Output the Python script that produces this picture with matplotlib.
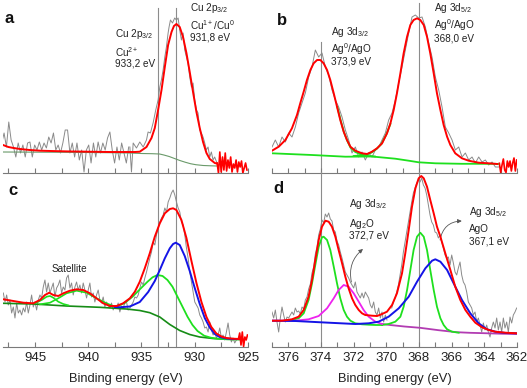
import numpy as np
import matplotlib
matplotlib.use("Agg")
import matplotlib.pyplot as plt
from matplotlib.ticker import MultipleLocator

plt.rcParams['font.family'] = ['Liberation Sans', 'DejaVu Sans']
plt.rcParams['mathtext.fontset'] = 'custom'
plt.rcParams['mathtext.rm'] = 'Liberation Sans'
plt.rcParams['mathtext.it'] = 'Liberation Sans:italic'
plt.rcParams['mathtext.bf'] = 'Liberation Sans:bold'

# ---------------- tick labels ----------------
cu_ticks = [945, 940, 935, 930, 925]
ag_ticks = [376, 374, 372, 370, 368, 366, 364, 362]
cu_lines = [933.45, 931.78]
ag_lines = [374.0, 368.0]

# ---------------- panel a : Cu 2p ----------------
a_raw1 = [30, 40, 26, 51, 33, 26, 16, 30, 20, 28, 16, 30, 31, 16, 28, 23, 31, 23, 30, 25,
          36, 30, 40, 23, 28, 20, 30, 43, 43, 20, 30, 16, 30, 13, 23, 1, 23, 28, 10, 30,
          16, 31, 20, 30, 23, 35, 41, 23, 10, 26, 13, 30, 20, 10, 26]
a_raw1_range = (948.12, 936.2)
a_raw2_E = [936.09, 935.94, 935.78, 935.47, 935.16, 934.84, 934.53, 934.38, 934.16, 933.91,
            933.66, 933.44, 933.28, 933.13, 932.97, 932.81, 932.66, 932.5, 932.41, 932.28,
            932.09, 931.88, 931.72, 931.56, 931.41, 931.25, 931.09, 930.94, 930.78, 930.63,
            930.47, 930.31, 930.16, 930.0, 929.84, 929.69, 929.53, 929.38, 929.22, 929.06,
            928.91, 928.75, 928.59, 928.44, 928.28, 928.13, 927.91]
a_raw2 = [26, 1, 30, 25, 31, 26, 33, 41, 40, 50, 63, 73, 86, 93, 103, 116, 126, 140, 146, 153,
          150, 155, 153, 155, 143, 133, 140, 123, 116, 110, 96, 86, 90, 73, 63, 60, 43, 40, 36, 30,
          23, 26, 16, 21, 13, 16, 10]
a_fit_E = [948.0, 947.5, 947.0, 946.4, 945.5, 944.5, 943.5, 942.0, 940.0, 938.0,
           936.5, 936.09, 935.6, 935.16, 934.53, 934.06, 933.75, 933.44, 933.12, 932.81,
           932.5, 932.18, 931.95, 931.72, 931.41, 931.1, 930.78, 930.47, 930.16, 929.84,
           929.53, 929.22, 928.9, 928.59, 928.12, 927.94]
a_fit = [28, 26, 25, 24, 23, 22.3, 22, 21.6, 21.3, 21,
         21, 21, 21, 21.3, 26, 35, 45, 63, 83, 106,
         128, 141, 147, 149, 146, 136, 120, 101, 81, 61,
         45, 31, 20, 14, 10, 9.5]
a_tail = [10, 0, 21, 1, 16, 3, 20, 2, 13, 5, 16, 1, 9, 5, 13, 1, 11, 6, 12, 0, 5, 10, 3]
a_tail_range = (927.9, 925.1)
a_bg_E = [948.0, 942.0, 938.0, 936.1, 935.0, 934.0, 933.3, 932.9, 932.4, 931.9, 931.4,
          930.9, 930.4, 929.9, 929.2, 928.5, 927.9]
a_bg = [21, 20.7, 20.3, 20, 19.5, 19.3, 19, 18, 16.5, 14.5, 12.5, 10.8, 9.3, 8.3, 7.5, 7.2, 7]

# ---------------- panel b : Ag 3d ----------------
b_raw = [26, 33, 26, 36, 31, 40, 36, 46, 60, 70, 80, 96, 106, 123, 116, 120, 106, 98, 83, 73,
         66, 56, 43, 33, 20, 26, 16, 21, 13, 20, 16, 23, 26, 33, 40, 53, 60, 73, 90, 106,
         123, 140, 156, 158, 155, 156, 146, 130, 116, 96, 83, 66, 46, 40, 33, 23, 26, 16, 20, 13,
         16, 10, 16, 11, 13, 8, 11, 6, 6]
b_raw_range = (377.0, 363.12)
b_fit_E = [377.0, 376.59, 376.18, 375.78, 375.47, 375.27, 375.06, 374.86, 374.65, 374.45,
           374.24, 374.04, 373.84, 373.63, 373.43, 373.22, 373.02, 372.82, 372.61, 372.41,
           372.2, 371.9, 371.49, 371.18, 370.88, 370.57, 370.26, 369.96, 369.75, 369.55,
           369.35, 369.14, 368.94, 368.73, 368.53, 368.33, 368.12, 367.92, 367.71, 367.51,
           367.31, 367.1, 366.9, 366.69, 366.49, 366.28, 366.08, 365.78, 365.37, 364.96,
           364.35, 363.74, 363.22]
b_fit = [22.3, 26.3, 33, 44.7, 58, 69.7, 81.3, 93, 103, 109.7,
         113, 113, 109.7, 103, 93, 79.7, 66.3, 53, 41.3, 33,
         26.3, 22.3, 19.7, 19, 21.3, 24.7, 29.7, 39.7, 49.7, 63,
         79.7, 99.7, 119.7, 136.3, 148, 153, 154.7, 153, 148, 136.3,
         119.7, 99.7, 79.7, 63, 48, 36.3, 28, 19.7, 14.7, 12.3,
         10.3, 9.7, 9]
b_tail = [9.7, 0.5, 8, 14, 3, 0.5, 12, 6, 12, 2, 10, 15, 2, 13]
b_tail_range = (363.08, 362.02)
b_c1_E = [373.0, 372.8, 372.6, 372.4, 372.2, 371.9, 371.5, 371.1, 370.7]
b_c1 = [66, 53, 41, 32.5, 25.5, 21, 18.3, 17, 16.5]
b_c2_E = [372.0, 371.6, 371.2, 370.9, 370.6, 370.3, 370.0, 369.75]
b_c2 = [17, 17.5, 18.5, 20.5, 24, 29, 38.5, 49]
b_bg_E = [377.0, 374.55, 372.51, 370.88, 369.45, 368.63, 368.02, 367.0, 365.37, 363.33, 363.1]
b_bg = [19.7, 18, 16.3, 16.5, 14.3, 12.3, 10.7, 9.7, 9.2, 9.2, 9]

# ---------------- panel c : Cu 2p ----------------
c_raw1 = [54, 45, 52, 42, 47, 34, 40, 29, 44, 34, 37, 32, 39, 35, 45, 34, 42, 52, 40, 45,
          37, 47, 52, 49, 60, 67, 55, 64, 54, 59, 64, 50, 59, 62, 67, 54, 60, 57, 69, 72,
          59, 64, 52, 60, 65, 57, 62, 54, 64, 57, 49, 57, 64, 50, 54, 45, 52, 57, 47, 44,
          50, 40, 45, 42, 39, 44, 37, 41, 39, 44, 35, 41, 39, 44, 45, 37]
c_raw1_range = (947.97, 936.25)
c_raw2 = [39, 42, 45, 50, 49, 52, 59, 65, 62, 69, 75, 82, 89, 95, 105, 102, 112, 119, 125, 129,
          132, 139, 135, 145, 149, 154, 157, 152, 145, 139, 135, 125, 122, 112, 99, 89, 75, 65, 55, 45,
          42, 39, 32, 29, 25, 19, 20, 15, 25, 17, 12, 15, 9, 12, 19, 9, 12, 7, 15, 24,
          12, 5, 9, 4, 7]
c_raw2_range = (936.09, 926.09)
c_fit_E = [947.97, 947.03, 946.09, 945.16, 944.53, 944.06, 943.66, 943.28, 942.81, 942.34,
           941.72, 941.09, 940.47, 939.84, 939.22, 938.59, 937.97, 937.34, 936.72, 936.09,
           935.62, 935.16, 934.69, 934.22, 933.75, 933.28, 932.81, 932.34, 932.03, 931.72,
           931.25, 930.78, 930.31, 929.84, 929.37, 928.9, 928.44, 927.97, 927.5, 927.03,
           926.41, 925.78]
c_fit = [47.7, 46, 44.3, 43.7, 47, 52, 54.3, 52, 51, 53.7,
         56.3, 57.7, 57, 53.7, 48.7, 43.7, 41, 41, 43.7, 48.7,
         55.3, 65.3, 78.7, 93.7, 110.3, 123.7, 133.7, 138, 138.7, 137,
         127, 109, 86, 64, 45, 30, 20, 13.5, 10.5, 9,
         8.3, 8]
c_tail = [8, 14, 2, 15, 0.5, 10, 7, 12]
c_tail_range = (925.9, 925.05)
c_blue_E = [937.5, 937.03, 936.09, 935.16, 934.37, 933.75, 933.28, 932.81, 932.34, 932.03,
            931.78, 931.41, 930.94, 930.47, 930.0, 929.53, 929.06, 928.59, 928.12, 927.66,
            927.03, 926.41, 925.78]
c_blue = [40, 39.7, 40.5, 45, 55, 66, 77, 88.7, 98.7, 103,
          104.3, 102, 91, 76, 59, 43, 29, 19.5, 13, 10,
          8.5, 8, 8]
c_green_E = [937.4, 936.62, 935.84, 935.06, 934.43, 933.96, 933.49, 933.02, 932.56, 932.09,
             931.62, 931.15, 930.68, 930.21, 929.74, 929.12, 928.49, 927.87, 926.93, 925.78]
c_green = [40.3, 43.7, 50.3, 58.7, 65.3, 69.7, 72, 71, 67, 60.3,
           50.3, 40.3, 30.3, 22, 16, 11.3, 9.3, 8.3, 7.7, 7.7]
c_sat1_E = [945.0, 944.37, 943.9, 943.59, 943.28, 942.81, 942.34, 941.87]
c_sat1 = [43.7, 47, 50.3, 51, 49.3, 45.3, 43, 41.7]
c_sat2_E = [944.53, 943.59, 942.81, 942.03, 941.09, 940.16, 939.22, 938.28, 937.5]
c_sat2 = [42.7, 44.3, 48.7, 53.7, 56.3, 54.3, 48.7, 43.7, 40.3]
c_bg_E = [947.97, 945.16, 942.03, 938.91, 936.41, 935.16, 934.22, 933.28, 932.34, 931.41,
          930.47, 929.53, 928.28, 927.03, 925.78]
c_bg = [43.7, 43, 41, 39.7, 38, 36.5, 34.3, 30, 22.5, 16.5, 12.5, 10, 8.5, 7.8, 7.5]

# ---------------- panel d : Ag 3d ----------------
d_raw1 = [35, 29, 37, 25, 15, 29, 40, 32, 25, 30, 29, 32, 35, 32, 39, 35, 36, 33, 40, 38,
          47, 50, 58, 63, 74, 80, 93, 100, 112, 118, 127, 124, 133, 130, 134, 128, 126, 117, 115, 106,
          102, 95, 89, 82, 75, 72, 69, 65, 62, 59, 65, 55, 52, 49, 54, 49, 55, 52, 49, 42,
          39, 45, 35, 32, 39, 29, 35, 25, 32, 27]
d_raw1_range = (377.0, 369.96)
d_raw2 = [39, 45, 49, 55, 62, 72, 82, 95, 105, 115, 125, 135, 145, 154, 159, 164, 167, 165, 169, 162,
          159, 152, 142, 132, 125, 122, 115, 114, 109, 112, 105, 99, 92, 89, 90, 82, 92, 84, 75, 72,
          79, 85, 72, 65, 62, 55, 45, 42, 39, 32, 35, 25, 29, 22, 15, 24, 17, 22, 15, 10,
          19, 25, 19, 29, 17, 25, 15, 29, 19, 25, 15, 30, 24, 32, 35, 39]
d_raw2_range = (369.67, 362.02)
d_fit_E = [377.0, 376.39, 375.78, 375.37, 375.06, 374.76, 374.55, 374.35, 374.14, 373.94,
           373.73, 373.53, 373.33, 373.12, 372.92, 372.71, 372.51, 372.31, 372.1, 371.9,
           371.69, 371.49, 371.29, 370.88, 370.57, 370.26, 369.96, 369.65, 369.35, 369.04,
           368.84, 368.63, 368.43, 368.22, 368.02, 367.86, 367.71, 367.51, 367.31, 367.1,
           366.9, 366.69, 366.39, 366.08, 365.78, 365.47, 365.16, 364.86, 364.55, 364.14,
           363.73, 363.33, 362.71, 362.0]
d_fit = [26.3, 26.3, 27.7, 30.3, 37, 50.3, 67, 87, 107, 120.3,
         126.3, 125.3, 120.3, 110.3, 97, 83.7, 70.3, 58.7, 48.7, 42,
         37, 33.7, 32, 31.3, 31, 33, 35.3, 42, 53.7, 73.7,
         93.7, 117, 140.3, 158.7, 168.7, 171, 168.7, 160.3, 147, 133.7,
         120.3, 110.3, 93.7, 77, 60.3, 47, 37, 30.3, 24.3, 19.7,
         17, 15.3, 14.3, 13.7]
d_g1_E = [375.78, 375.37, 375.06, 374.76, 374.55, 374.35, 374.14, 373.94, 373.84, 373.63,
          373.43, 373.22, 373.02, 372.82, 372.61, 372.41, 372.2, 371.9, 371.49, 371.08,
          370.67, 370.26]
d_g1 = [27, 28.7, 33.7, 47, 63.7, 82, 100.3, 109.7, 110.3, 107,
        97, 80.3, 63.7, 48.7, 37, 30.3, 26.3, 23.7, 22.7, 22.3,
        22, 22]
d_g2_E = [370.26, 369.86, 369.45, 369.14, 368.94, 368.73, 368.53, 368.33, 368.12, 367.92,
          367.71, 367.51, 367.31, 367.1, 366.9, 366.69, 366.49, 366.28, 365.98, 365.57]
d_g2 = [22, 23, 25.3, 30.3, 40.3, 57, 77, 97, 110.3, 114.3,
        110.3, 97, 77, 57, 40.3, 28.7, 22, 17.7, 15.3, 14.3]
d_mag_E = [377.0, 375.57, 374.76, 374.14, 373.63, 373.22, 372.92, 372.61, 372.31, 372.0,
           371.69, 371.39, 371.08, 370.67, 370.26]
d_mag = [26.3, 26.3, 27.7, 31, 38.7, 48.7, 57, 62, 60.3, 53.7,
         45.3, 37, 30.3, 25.3, 23]
d_bg_E = [370.26, 369.77, 368.9, 367.94, 366.8, 365.69, 364.88, 364.0, 363.0, 362.0]
d_bg = [23, 22, 20.5, 19.2, 16.8, 14.8, 14.2, 13.8, 13.3, 13]
d_blue_E = [377.0, 375.57, 373.53, 371.9, 371.08, 370.47, 369.86, 369.24, 368.63, 368.12,
            367.61, 367.2, 367.0, 366.69, 366.28, 365.88, 365.37, 364.86, 364.35, 363.84,
            363.33, 362.71, 362.0]
d_blue = [26.3, 26, 24.3, 23, 23.7, 25.3, 30.3, 38.7, 50.3, 65.3,
          78.7, 86.3, 87.7, 85.3, 77, 63.7, 47, 33.7, 23.7, 17.7,
          15.3, 14, 13.7]

# ---------------- styles ----------------
GRAY = '#8a8a8a'
RED = '#ff0000'
GREEN = '#1ee01e'
DKGREEN = '#168c16'
OLIVE = '#6a9a6a'
BLUE = '#1414e6'
MAG = '#ee22ee'
PURP = '#b23cb2'
LINEC = '#8c8c8c'
TXT = '#222222'

fig = plt.figure(figsize=(5.27, 3.88), dpi=100)
W, H = 527.0, 388.0
axa = fig.add_axes([3 / W, (H - 173) / H, 245 / W, 171 / H])
axb = fig.add_axes([272 / W, (H - 173) / H, 245 / W, 171 / H])
axc = fig.add_axes([3 / W, (H - 347) / H, 245 / W, 172 / H])
axd = fig.add_axes([272 / W, (H - 347) / H, 245 / W, 172 / H])


def style(ax, xlim, ylim, ticks, minor, labels):
    ax.set_xlim(*xlim)
    ax.set_ylim(*ylim)
    ax.patch.set_visible(False)
    for s in ['top', 'left', 'right']:
        ax.spines[s].set_visible(False)
    ax.spines['bottom'].set_color('#7a7a7a')
    ax.spines['bottom'].set_linewidth(0.8)
    ax.set_yticks([])
    ax.set_xticks(ticks)
    ax.set_xticklabels([str(t) for t in ticks])
    ax.xaxis.set_minor_locator(MultipleLocator(minor))
    ax.tick_params(axis='x', which='both', direction='in', length=3.5, width=0.8,
                   color='#7a7a7a', labelsize=9.5, pad=3.5, labelbottom=labels,
                   labelcolor=TXT)
    if labels:
        ax.set_xlabel('Binding energy (eV)', fontsize=9.3, color=TXT)
        ax.xaxis.label.set_va('baseline')
        ax.xaxis.set_label_coords(0.5, -0.202)


style(axa, (948, 925), (0, 171), cu_ticks, 2.5, False)
style(axb, (377, 362), (0, 171), ag_ticks, 1, False)
style(axc, (948, 925), (0, 172), cu_ticks, 2.5, True)
style(axd, (377, 362), (0, 172), ag_ticks, 1, True)

# vertical guide lines (continuous across top and bottom panels)
for e, top in zip(cu_lines, [0.965, 0.965]):
    axa.axvline(e, 0, top, color=LINEC, lw=0.8, zorder=1)
    axc.axvline(e, 0, 1.02, color=LINEC, lw=0.8, zorder=1, clip_on=False)
for e, top in zip(ag_lines, [0.766, 0.994]):
    axb.axvline(e, 0, top, color=LINEC, lw=0.8, zorder=1)
    axd.axvline(e, 0, 1.02, color=LINEC, lw=0.8, zorder=1, clip_on=False)


def span(rng, vals):
    return np.linspace(rng[0], rng[1], len(vals))


# ---- a ----
axa.plot(span(a_raw1_range, a_raw1), a_raw1, color=GRAY, lw=0.7, zorder=2)
axa.plot(a_raw2_E, a_raw2, color=GRAY, lw=0.7, zorder=2)
axa.plot(a_bg_E, a_bg, color=OLIVE, lw=0.8, zorder=3)
axa.plot(a_fit_E, a_fit, color=RED, lw=1.4, zorder=4)
axa.plot(span(a_tail_range, a_tail), a_tail, color=RED, lw=1.2, zorder=4)

# ---- b ----
axb.plot(span(b_raw_range, b_raw), b_raw, color=GRAY, lw=0.7, zorder=2)
axb.plot(b_bg_E, b_bg, color=GREEN, lw=1.3, zorder=3)
axb.plot(b_c1_E, b_c1, color=GREEN, lw=1.3, zorder=3)
axb.plot(b_c2_E, b_c2, color=GREEN, lw=1.3, zorder=3)
axb.plot(b_fit_E, b_fit, color=RED, lw=1.4, zorder=4)
axb.plot(span(b_tail_range, b_tail), b_tail, color=RED, lw=1.2, zorder=4)

# ---- c ----
axc.plot(span(c_raw1_range, c_raw1), c_raw1, color=GRAY, lw=0.7, zorder=2)
axc.plot(span(c_raw2_range, c_raw2), c_raw2, color=GRAY, lw=0.7, zorder=2)
axc.plot(c_bg_E, c_bg, color=DKGREEN, lw=1.2, zorder=3)
axc.plot(c_sat1_E, c_sat1, color=GREEN, lw=1.2, zorder=3)
axc.plot(c_sat2_E, c_sat2, color=GREEN, lw=1.2, zorder=3)
axc.plot(c_green_E, c_green, color=GREEN, lw=1.3, zorder=3)
axc.plot(c_blue_E, c_blue, color=BLUE, lw=1.4, zorder=3.5)
axc.plot(c_fit_E, c_fit, color=RED, lw=1.4, zorder=4)
axc.plot(span(c_tail_range, c_tail), c_tail, color=RED, lw=1.2, zorder=4)

# ---- d ----
axd.plot(span(d_raw1_range, d_raw1), d_raw1, color=GRAY, lw=0.7, zorder=2)
axd.plot(span(d_raw2_range, d_raw2), d_raw2, color=GRAY, lw=0.7, zorder=2)
axd.plot(d_bg_E, d_bg, color=PURP, lw=1.3, zorder=3)
axd.plot(d_g1_E, d_g1, color=GREEN, lw=1.3, zorder=3)
axd.plot(d_g2_E, d_g2, color=GREEN, lw=1.3, zorder=3)
axd.plot(d_mag_E, d_mag, color=MAG, lw=1.3, zorder=3)
axd.plot(d_blue_E, d_blue, color=BLUE, lw=1.4, zorder=3.5)
axd.plot(d_fit_E, d_fit, color=RED, lw=1.4, zorder=4)

# ---------------- texts ----------------
fs = 7.2


def label(ax, x, ys, lines):
    for y, t in zip(ys, lines):
        ax.text(x, y, t, fontsize=fs, color=TXT, ha='left', va='baseline', zorder=6)


label(axa, 937.5, [136, 116.3, 106.3], [r'Cu 2p$_{3/2}$', r'Cu$^{2+}$', '933,2 eV'])
label(axa, 930.4, [162, 143, 132.3], [r'Cu 2p$_{3/2}$', r'Cu$^{1+}$/Cu$^{0}$', '931,8 eV'])
label(axb, 373.37, [138, 119.7, 108], [r'Ag 3d$_{3/2}$', r'Ag$^{0}$/AgO', '373,9 eV'])
label(axb, 367.1, [162, 144, 131.3], [r'Ag 3d$_{5/2}$', r'Ag$^{0}$/AgO', '368,0 eV'])
label(axd, 372.27, [140, 120.3, 108.5], [r'Ag 3d$_{3/2}$', r'Ag$_{2}$O', '372,7 eV'])
label(axd, 364.91, [132, 115, 103], [r'Ag 3d$_{5/2}$', 'AgO', '367,1 eV'])
axc.text(943.43, 75.3, 'Satellite', fontsize=fs, color=TXT, ha='left', va='baseline')

arrow = dict(arrowstyle='-|>', color='#555555', lw=0.6, mutation_scale=6,
             shrinkA=0, shrinkB=0)
axd.annotate('', xy=(371.43, 98), xytext=(372.14, 65),
             arrowprops=dict(arrow, connectionstyle='arc3,rad=-0.3'))
axd.annotate('', xy=(365.38, 126), xytext=(366.71, 107),
             arrowprops=dict(arrow, connectionstyle='arc3,rad=-0.4'))

for ax, t, x, y in [(axa, 'a', 0.008, 0.879), (axb, 'b', 0.02, 0.865),
                    (axc, 'c', 0.02, 0.884), (axd, 'd', 0.007, 0.895)]:
    ax.text(x, y, t, transform=ax.transAxes, fontsize=12, fontweight='bold',
            color='#111111', ha='left', va='baseline')

fig.savefig('out.png', dpi=100)
